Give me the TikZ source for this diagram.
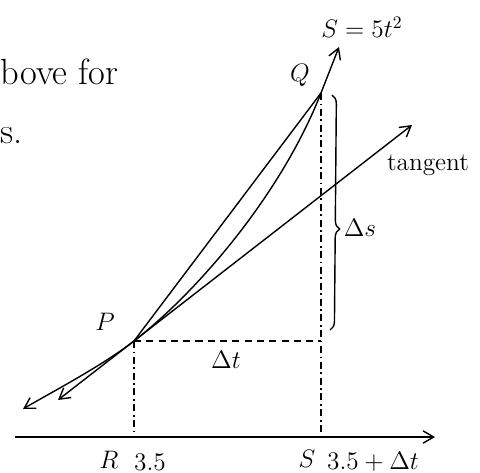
\documentclass[tikz,border=0pt]{standalone}
\usepackage{amsmath}
\usepackage{tikz}
\usetikzlibrary{arrows.meta, positioning, decorations.pathreplacing}

\begin{document}
\begin{tikzpicture}[
    x=0.02cm, y=-0.02cm,
    line width=0.8pt,
    barb/.style={-{Straight Barb[length=6pt,width=7pt]}},
    guide/.style={line width=0.6pt, dash pattern=on 4pt off 3pt},
    drop/.style={line width=0.6pt, dash pattern=on 4pt off 2pt on 1pt off 2pt},
    lbl/.style={font=\Large, inner sep=1pt}
  ]
  \useasboundingbox (0,0) rectangle (480,473);

  % points of the picture
  \coordinate (P) at (134,341);
  \coordinate (Q) at (321,93);
  \coordinate (curveLow) at (23,409);
  \coordinate (curveUp) at (339,47);
  \coordinate (tanLow) at (58,400);
  \coordinate (tanUp) at (412,125);
  \coordinate (axisL) at (15,437);
  \coordinate (axisR) at (435,437);
  \coordinate (footR) at (134,437);
  \coordinate (footS) at (321,437);
  \coordinate (corner) at (321,341);

  % text cut at the left edge
  \node[font=\huge, anchor=base west, inner sep=0pt] (txtA) at (0,85) {bove for};
  \node[font=\huge, anchor=base west, inner sep=0pt] (txtB) at (0,143) {s.};

  % axis and guides
  \draw[barb] (axisL) -- (axisR);
  \draw[drop] (P) -- (footR);
  \draw[drop] (Q) -- (footS);
  \draw[guide] (P) -- (corner);

  % curve, chord and tangent
  \draw[{Straight Barb[length=6pt,width=7pt]}-{Straight Barb[length=6pt,width=7pt]}]
    (curveLow) .. controls (50,393) and (102,366) .. (P)
    .. controls (197,292) and (281,195) .. (Q) -- (curveUp);
  \draw (P) -- (Q);
  \draw[{Straight Barb[length=6pt,width=7pt]}-{Straight Barb[length=6pt,width=7pt]}]
    (tanLow) -- (tanUp);

  % brace for the rise
  \draw[decorate, decoration={brace, amplitude=5pt, aspect=0.57}]
    (332,95) -- (330,330);

  % labels
  \node[lbl] (lblCurve) at (362,27) {$S = 5t^2$};
  \node[lbl] (lblQ) at (300,75) {$Q$};
  \node[lbl] (lblP) at (105,322) {$P$};
  \node[lbl] (lblTan) at (428,165) {tangent};
  \node[lbl] (lblDs) at (360,228) {$\Delta s$};
  \node[lbl] (lblDt) at (226,360) {$\Delta t$};
  \node[lbl] (lblR) at (109,460) {$R$};
  \node[lbl] (lblRt) at (150,462) {$3.5$};
  \node[lbl] (lblS) at (307,459) {$S$};
  \node[lbl] (lblSt) at (373,462) {$3.5+\Delta t$};
\end{tikzpicture}
\end{document}
